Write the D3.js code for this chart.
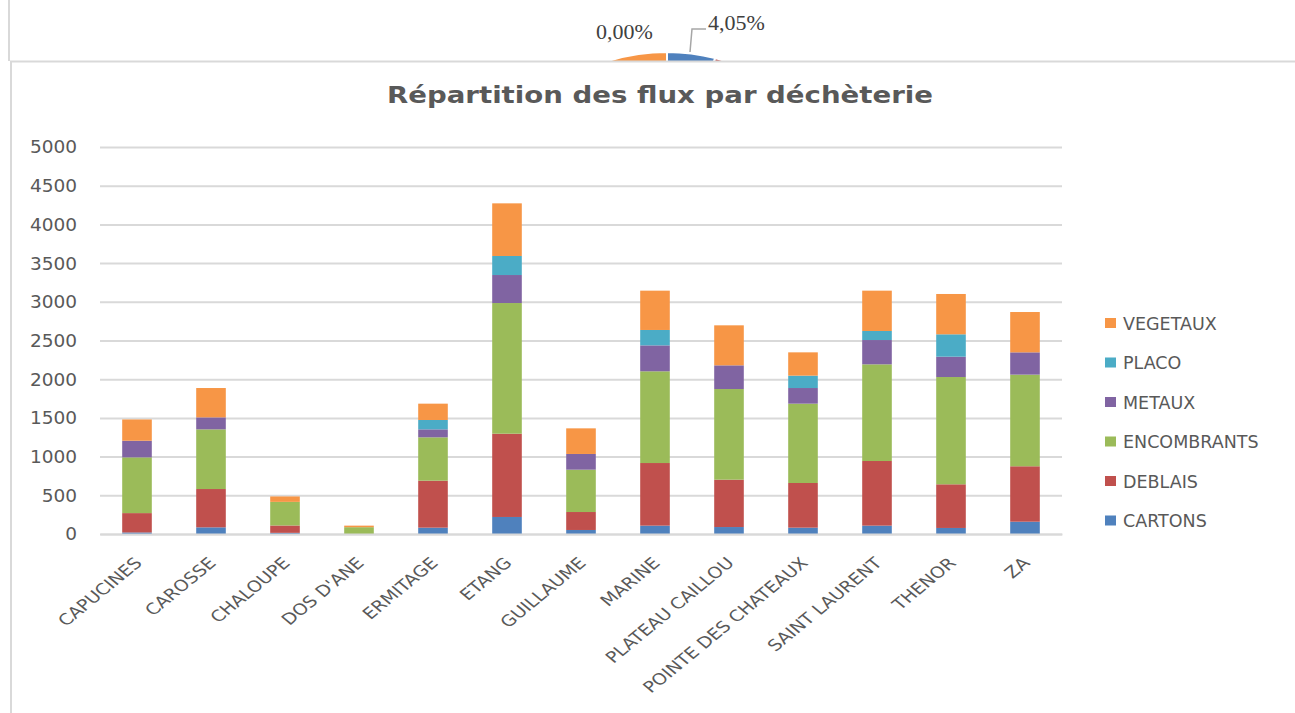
<!doctype html>
<html>
  <head>
    <script src="https://cdnjs.cloudflare.com/ajax/libs/d3/7.8.5/d3.min.js" type="text/JavaScript"></script>
    <style>
      body { margin: 0; background: #fff; }
      text { font-family: "DejaVu Sans", sans-serif; fill: #595959; }
    </style>
  </head>
  <body>
    <svg style="height: 713px; width: 1295px; display: block;"></svg>

    <script>
        var sites = ["CAPUCINES", "CAROSSE", "CHALOUPE", "DOS D'ANE", "ERMITAGE", "ETANG", "GUILLAUME",
                     "MARINE", "PLATEAU CAILLOU", "POINTE DES CHATEAUX", "SAINT LAURENT", "THENOR", "ZA"];
        var flux = ["CARTONS", "DEBLAIS", "ENCOMBRANTS", "METAUX", "PLACO", "VEGETAUX"];
        var cartons     = [20, 86, 15, 0, 82, 220, 52, 108, 90, 82, 108, 78, 159];
        var deblais     = [250, 495, 95, 0, 607, 1076, 232, 809, 612, 577, 835, 564, 716];
        var encombrants = [720, 771, 305, 88, 560, 1688, 547, 1185, 1171, 1025, 1249, 1386, 1184];
        var metaux      = [215, 155, 0, 0, 103, 362, 203, 335, 306, 202, 314, 263, 288];
        var placo       = [0, 0, 0, 0, 121, 246, 0, 199, 0, 160, 117, 289, 0];
        var vegetaux    = [275, 379, 70, 20, 211, 680, 331, 508, 517, 301, 521, 521, 521];
        var yTicks = [0, 500, 1000, 1500, 2000, 2500, 3000, 3500, 4000, 4500, 5000];
        var colors = ["#4F81BD", "#C0504D", "#9BBB59", "#8064A2", "#4BACC6", "#F79646"];

        // pie of the chart behind (only its top shows)
        var pieShares = [4.05, 20, 45, 11, 0, 19.95];
        var pieLabels = ["0,00%", "4,05%"];

        var svg = d3.select("svg");

        // --- background chart with the cut pie ---
        svg.append("defs").append("clipPath").attr("id", "topclip")
            .append("rect").attr("x", 0).attr("y", 0).attr("width", 1295).attr("height", 61);

        var pieGen = d3.pie().sort(null).value(d => d);
        var arcGen = d3.arc().innerRadius(0).outerRadius(191);
        svg.append("g")
            .attr("clip-path", "url(#topclip)")
            .append("g")
            .attr("transform", "translate(667,243)")
            .selectAll("path")
            .data(pieGen(pieShares))
            .enter()
            .append("path")
            .attr("d", arcGen)
            .style("fill", (d, i) => colors[i])
            .style("stroke", "#fff")
            .style("stroke-width", 2);

        svg.append("path")
            .attr("d", "M706,29H692L690,52")
            .style("fill", "none").style("stroke", "#a6a6a6").style("stroke-width", 1.5);
        svg.selectAll(".pielab")
            .data(pieLabels)
            .enter()
            .append("text")
            .attr("x", (d, i) => i == 0 ? 596 : 708)
            .attr("y", (d, i) => i == 0 ? 39 : 30)
            .style("font-family", "'Liberation Serif', serif")
            .style("font-size", "22px")
            .style("fill", "#404040")
            .text(d => d);

        svg.append("line").attr("x1", 9).attr("x2", 9).attr("y1", 0).attr("y2", 61)
            .style("stroke", "#d9d9d9").style("stroke-width", 2);

        // --- main chart frame ---
        svg.append("rect").attr("x", 11).attr("y", 61.5).attr("width", 1300).attr("height", 700)
            .style("fill", "#fff").style("stroke", "#d9d9d9").style("stroke-width", 2);

        svg.append("text")
            .attr("x", 660).attr("y", 103)
            .attr("text-anchor", "middle")
            .attr("textLength", 546)
            .attr("lengthAdjust", "spacingAndGlyphs")
            .style("font-weight", "bold")
            .style("font-size", "22.5px")
            .text("Répartition des flux par déchèterie");

        var x = d3.scaleBand().domain(sites).range([100, 1062]).paddingInner(0.6).paddingOuter(0.3);
        var y = d3.scaleLinear().domain([0, 5000]).range([534, 147]);

        // gridlines
        svg.append("g")
            .attr("transform", "translate(100,0)")
            .call(d3.axisLeft(y).tickValues(yTicks).tickSize(-962).tickFormat(""))
            .call(g => g.select(".domain").remove())
            .call(g => g.selectAll("line").style("stroke", "#d9d9d9").style("stroke-width", 2));

        // y labels
        svg.append("g")
            .attr("transform", "translate(77,0)")
            .call(d3.axisLeft(y).tickValues(yTicks).tickSize(0).tickPadding(0).tickFormat(d3.format("d")))
            .call(g => g.select(".domain").remove())
            .call(g => g.selectAll("text").style("font-size", "18.5px").style("fill", "#595959")
                .style("font-family", "'DejaVu Sans', sans-serif"));

        // stacked bars
        var table = sites.map((s, i) => ({
            site: s, CARTONS: cartons[i], DEBLAIS: deblais[i], ENCOMBRANTS: encombrants[i],
            METAUX: metaux[i], PLACO: placo[i], VEGETAUX: vegetaux[i]
        }));
        var stacked = d3.stack().keys(flux)(table);

        svg.append("g")
            .selectAll("g")
            .data(stacked)
            .enter()
            .append("g")
            .style("fill", (d, i) => colors[i])
            .selectAll("rect")
            .data(d => d)
            .enter()
            .append("rect")
            .attr("x", d => x(d.data.site))
            .attr("width", x.bandwidth())
            .attr("y", d => y(d[1]))
            .attr("height", d => y(d[0]) - y(d[1]));

        // x axis
        svg.append("g")
            .attr("transform", "translate(0,534)")
            .call(d3.axisBottom(x).tickSize(0).tickFormat(""))
            .call(g => g.select(".domain").style("stroke", "#d9d9d9").style("stroke-width", 2));

        // rotated labels, a bit wider than tall like the source
        svg.append("g")
            .selectAll("text")
            .data(sites)
            .enter()
            .append("text")
            .attr("transform", d => "translate(" + (x(d) + x.bandwidth() / 2 + 6) + ",564) scale(1.12,0.92) rotate(-45)")
            .attr("text-anchor", "end")
            .style("font-size", "17px")
            .text(d => d);

        // legend
        var legend = svg.append("g")
            .selectAll("g")
            .data(flux.slice().reverse())
            .enter()
            .append("g")
            .attr("transform", (d, i) => "translate(1105," + (323 + i * 39.5) + ")");
        legend.append("rect")
            .attr("x", 0).attr("y", -5).attr("width", 11).attr("height", 10)
            .style("fill", d => colors[flux.indexOf(d)]);
        legend.append("text")
            .attr("x", 18).attr("y", 6.5)
            .style("font-size", "17.5px")
            .text(d => d);
    </script>
  </body>
</html>
